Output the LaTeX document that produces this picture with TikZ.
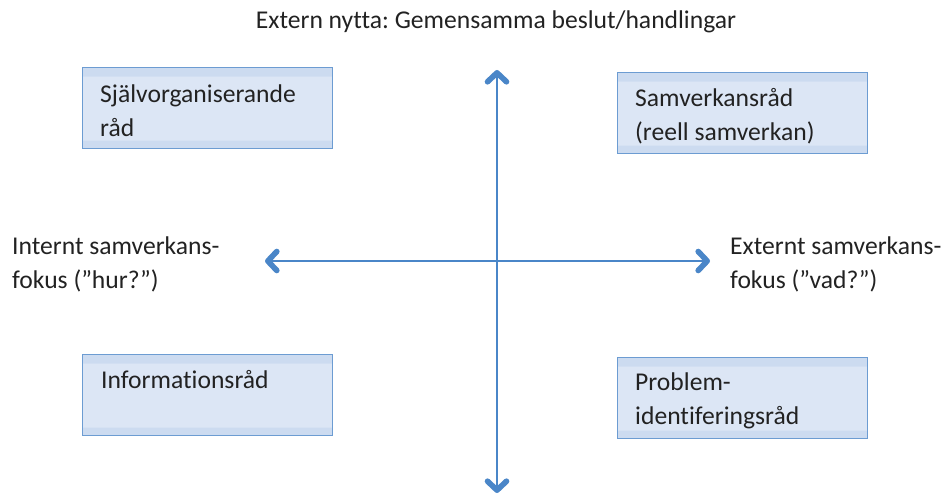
\documentclass[tikz,border=0pt]{standalone}
\usepackage{fontspec}
\setmainfont{Carlito}[Ligatures=NoCommon]
\usetikzlibrary{calc}
\usetikzlibrary{arrows.meta}
\definecolor{axisblue}{HTML}{4A86C8}
\definecolor{boxfill}{HTML}{DCE6F5}
\definecolor{boxband}{HTML}{CCDBF0}
\definecolor{boxline}{HTML}{6C9CD2}
\definecolor{labelgray}{HTML}{222222}
\pgfdeclareverticalshading{boxshade}{100bp}{color(0bp)=(boxband); color(30bp)=(boxband); color(30.5bp)=(boxfill); color(69.5bp)=(boxfill); color(70bp)=(boxband); color(100bp)=(boxband)}
\frenchspacing

\begin{document}
\begin{tikzpicture}[x=1pt,y=-1pt,
		quad/.style={rectangle,draw=boxline,line width=1.2pt,shading=boxshade,anchor=north west,minimum width=250pt,minimum height=81pt,inner sep=0pt},
		lbl/.style={inner sep=0pt,anchor=base west,align=left,text=labelgray,font=\fontsize{25.6}{34}\selectfont},
		axis/.style={draw=axisblue,line width=2.6pt,{Straight Barb[length=9pt,width=19pt,line width=5.6pt,round]}-{Straight Barb[length=9pt,width=19pt,line width=5.6pt,round]}}]
		\useasboundingbox (0,0) rectangle (945,500);
		% axes
		\coordinate (top)    at (497,70);
		\coordinate (bottom) at (497,493);
		\coordinate (left)   at (265,261);
		\coordinate (right)  at (710,261);
		\path[axis] (top) -- (bottom);
		\path[axis] (left) -- (right);
		
		% quadrant boxes (text anchored at its last line)
		\node[quad] (selforg) at (82,67)   {};
		\node[quad] (samv)    at (617,72)  {};
		\node[quad] (info)    at (82,354)  {};
		\node[quad] (problem) at (617,357) {};
		
		\node[lbl] (selforgtxt) at ($(selforg.north west)+(18,69)$) {Självorganiserande\\råd};
		\node[lbl] (samvtxt)    at ($(samv.north west)+(18,69)$)    {Samverkansråd\\(reell samverkan)};
		\node[lbl] (infotxt)    at ($(info.north west)+(19,34)$)    {Informationsråd};
		\node[lbl] (problemtxt) at ($(problem.north west)+(18,67)$) {Problem-\\identiferingsråd};
		
		% axis labels
		\node[lbl,anchor=base] (toptxt) at (496,29) {Extern nytta: Gemensamma beslut/handlingar};
		\node[lbl] (lefttxt)  at (12,288)  {Internt samverkans-\\fokus (”hur?”)};
		\node[lbl] (righttxt) at (730,288) {Externt samverkans-\\fokus (”vad?”)};
\end{tikzpicture}
\end{document}
